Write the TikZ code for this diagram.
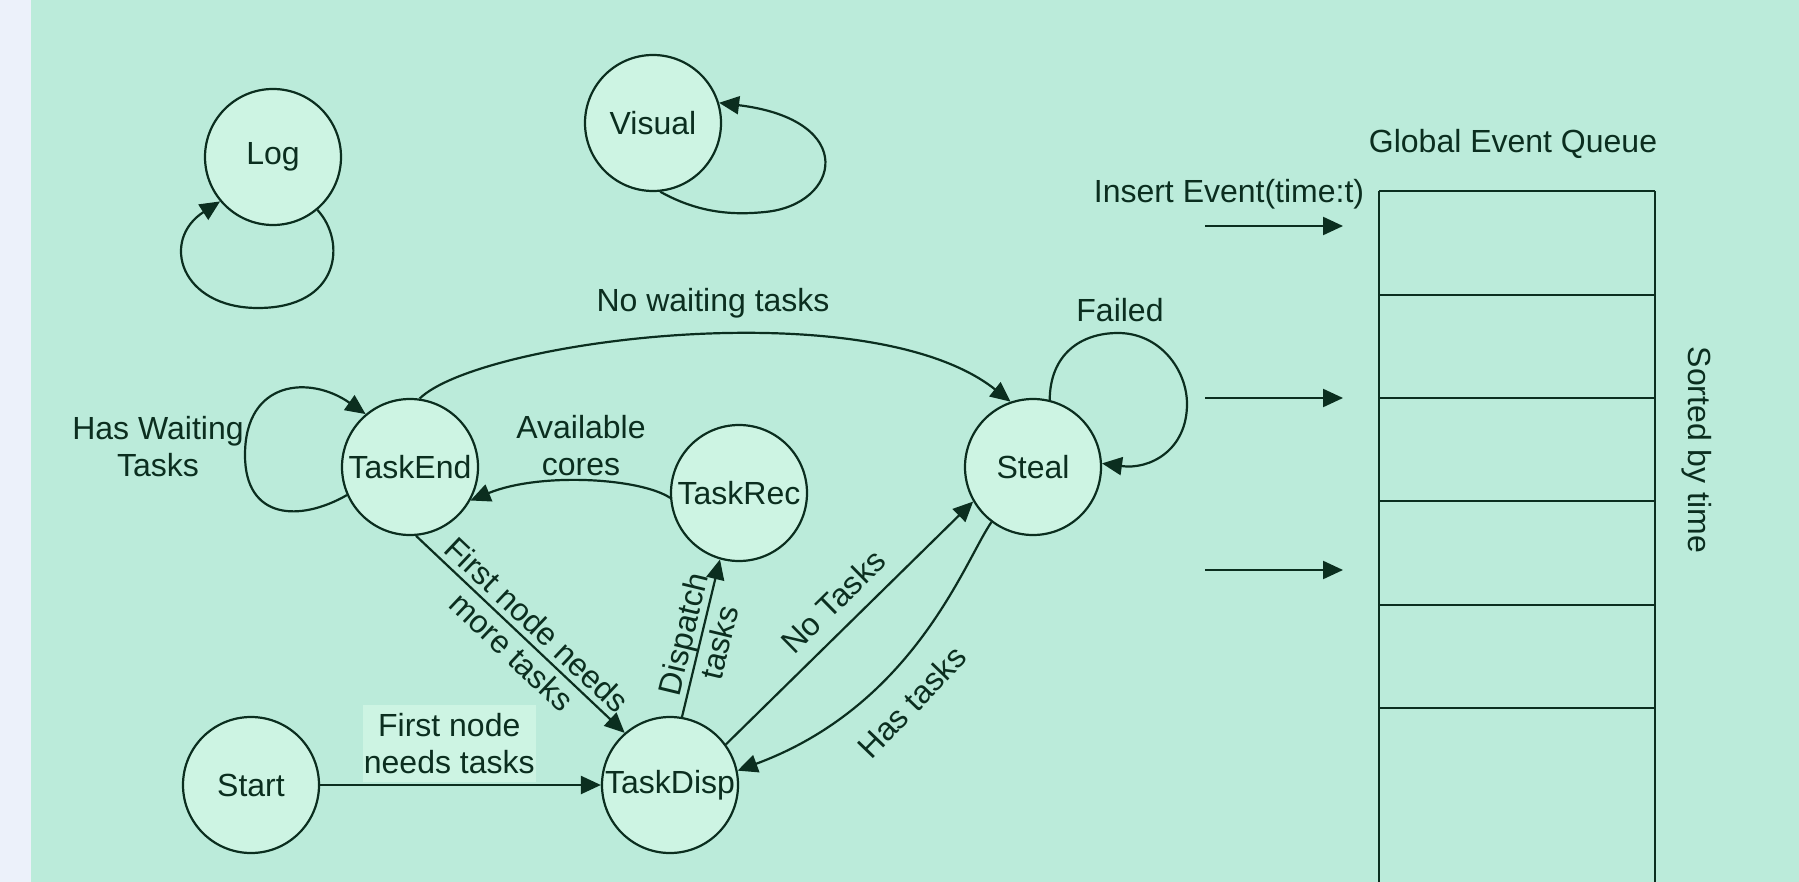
\documentclass[tikz,border=0pt]{standalone}
\usepackage{fontspec}
\setmainfont{Liberation Sans}
\usepackage{tikz}
\usetikzlibrary{arrows.meta}
\definecolor{bgcol}{HTML}{BBEBDA}
\definecolor{stripcol}{HTML}{ECF1FA}
\definecolor{statefill}{HTML}{CDF4E3}
\definecolor{inkcol}{HTML}{0B2E1F}
\tikzset{
  statenode/.style={circle, draw=inkcol, fill=statefill, line width=1.1pt, minimum size=68pt, inner sep=0pt, text=inkcol},
  lbl/.style={text=inkcol, align=center, inner sep=2pt},
  conn/.style={draw=inkcol, line width=1.1pt},
  arr/.style={-{Triangle[length=10pt,width=9pt]}}
}
\begin{document}
\begin{tikzpicture}[x=0.5pt,y=-0.5pt,font=\fontsize{16}{18.5}\selectfont]
		\useasboundingbox (0,0) rectangle (1799,882);
		\fill[stripcol] (0,0) rectangle (31,882);
		\fill[bgcol] (31,0) rectangle (1799,882);

		\node[statenode] (log) at (273,157) {Log};
		\node[statenode] (visual) at (653,123) {Visual};
		\node[statenode] (taskend) at (410,467) {TaskEnd};
		\node[statenode] (taskrec) at (739,493) {TaskRec};
		\node[statenode] (steal) at (1033,467) {Steal};
		\node[statenode] (start) at (251,785) {Start};
		\node[statenode] (taskdisp) at (670,785) {TaskDisp};

		\draw[conn,arr] (log.-50) .. controls (347,242) and (340,308) .. (258,308) .. controls (180,308) and (160,240) .. (log.-140);
		\draw[conn,arr] (visual.-84) .. controls (700,214) and (735,215) .. (765,212) .. controls (840,205) and (860,120) .. (visual.17);
		\draw[conn,arr] (taskend.204) .. controls (300,522) and (245,520) .. (245,455) .. controls (245,380) and (310,375) .. (taskend.130);
		\draw[conn,arr] (steal.76) .. controls (1050,355) and (1080,333) .. (1118,333) .. controls (1160,333) and (1187,370) .. (1187,404) .. controls (1187,450) and (1150,470) .. (steal.3);

		\draw[conn,arr] (taskend.82) .. controls (480,340) and (870,290) .. (steal.109);
		\draw[conn,arr] (taskrec.184) .. controls (640,478) and (540,472) .. (taskend.-29);
		\draw[conn,arr] (taskend.-85) -- node[lbl,sloped,pos=0.52] (lblmore) {First node needs\\more tasks} (taskdisp.131);
		\draw[conn,arr] (taskdisp.80) -- node[lbl,sloped] (lbldispatch) {Dispatch\\tasks} (taskrec.-106);
		\draw[conn,arr] (taskdisp.36) -- node[lbl,sloped,above=5pt,pos=0.51] (lblnotasks) {No Tasks} (steal.-150);
		\draw[conn,arr] (steal.-127) .. controls (965,560) and (915,705) .. (taskdisp.12);
		\draw[conn,arr] (start) -- node[lbl,above=1pt,pos=0.46,fill=statefill,inner xsep=0.5pt,inner ysep=4pt] (lblneeds) {First node\\needs tasks} (taskdisp);

		\node[lbl] (lblwaiting) at (158,447) {Has Waiting\\Tasks};
		\node[lbl] (lblavail) at (581,446) {Available\\cores};
		\node[lbl] (lblnowait) at (713,303) {No waiting tasks};
		\node[lbl] (lblfailed) at (1120,310) {Failed};
		\node[lbl,rotate=46] (lblhastasks) at (912,702) {Has tasks};

		\node[lbl] (qtitle) at (1513,144) {Global Event Queue};
		\node[lbl] (qinsert) at (1229,194) {Insert Event(time:t)};
		\node[lbl,rotate=-90] (qsorted) at (1697,450) {Sorted by time};
		\foreach \y in {191,295,398,501,605,708}
			\draw[conn] (1379,\y) -- (1655,\y);
		\draw[conn] (1379,191) -- (1379,882) (1655,191) -- (1655,882);
		\foreach \y [count=\i] in {226,398,570} {
			\coordinate (insA\i) at (1205,\y);
			\coordinate (insB\i) at (1343,\y);
			\draw[conn,arr] (insA\i) -- (insB\i);
		}
	\end{tikzpicture}
\end{document}
